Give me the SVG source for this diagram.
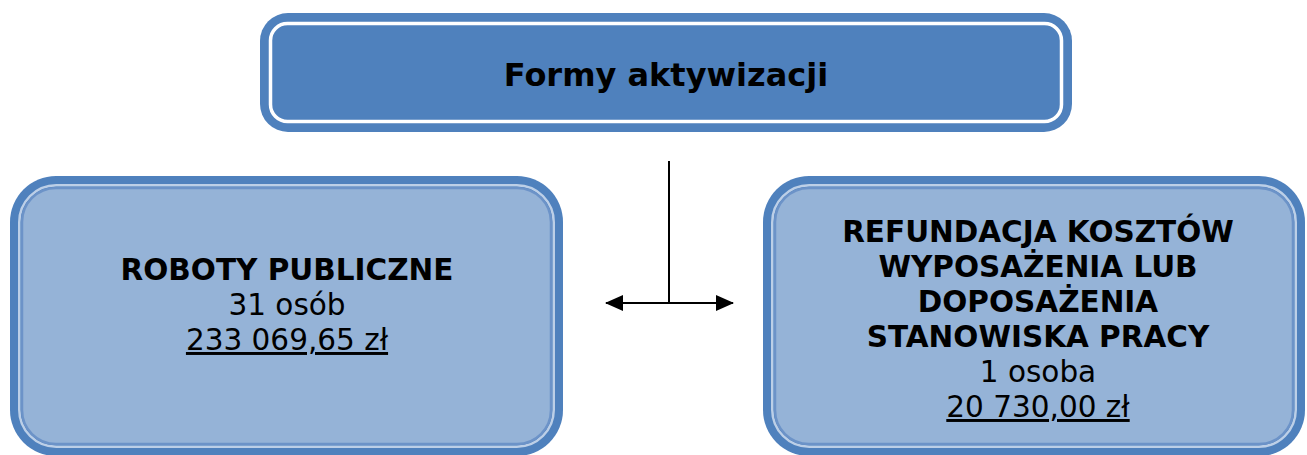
<svg xmlns="http://www.w3.org/2000/svg" width="1307" height="455" viewBox="0 0 1307 455">
<style>
.outer{fill:#4F81BD}
.ring1{fill:none;stroke:#BCCFE7;stroke-width:2.5}
.ring2{fill:#95B3D7;stroke:#6C93C8;stroke-width:2.5}
.white{fill:none;stroke:#FFFFFF;stroke-width:3.5}
text{font-family:"DejaVu Sans",Verdana,sans-serif;fill:#000;text-anchor:middle}
.b{font-weight:bold;font-size:29.5px}
.t{font-weight:bold;font-size:32px}
.r{font-size:29.5px}
.u{text-decoration:underline}
.conn{stroke:#000;stroke-width:2;fill:none}
</style>
<defs>
<marker id="ah" viewBox="0 0 18 16" refX="17" refY="8" markerWidth="18" markerHeight="16" markerUnits="userSpaceOnUse" orient="auto-start-reverse">
<path d="M0,0 L18,8 L0,16 Z" fill="#000"/>
</marker>
</defs>
<g id="top">
<rect class="outer" x="260" y="13" width="812" height="119" rx="28"/>
<rect class="white" x="270.5" y="23.5" width="791" height="98" rx="17"/>
<text class="t" x="666" y="86">Formy aktywizacji</text>
</g>
<g id="left">
<rect class="outer" x="10" y="176" width="553" height="280" rx="46"/>
<rect class="ring1" x="19.25" y="185.25" width="534.5" height="261.5" rx="37"/>
<rect class="ring2" x="22" y="188" width="529" height="256" rx="34"/>
<text class="b" x="287" y="280">ROBOTY PUBLICZNE</text>
<text class="r" x="287" y="315">31 osób</text>
<text class="r u" x="287" y="350">233 069,65 zł</text>
</g>
<g id="right">
<rect class="outer" x="763" y="176" width="542" height="280" rx="46"/>
<rect class="ring1" x="772.25" y="185.25" width="523.5" height="261.5" rx="37"/>
<rect class="ring2" x="775" y="188" width="518" height="256" rx="34"/>
<text class="b" x="1038" y="242">REFUNDACJA KOSZTÓW</text>
<text class="b" x="1038" y="277">WYPOSAŻENIA LUB</text>
<text class="b" x="1038" y="312">DOPOSAŻENIA</text>
<text class="b" x="1038" y="347">STANOWISKA PRACY</text>
<text class="r" x="1038" y="382">1 osoba</text>
<text class="r u" x="1038" y="417">20 730,00 zł</text>
</g>
<g id="connectors">
<line class="conn" x1="669" y1="161" x2="669" y2="303"/>
<line class="conn" x1="606" y1="303" x2="733" y2="303" marker-start="url(#ah)" marker-end="url(#ah)"/>
</g>
</svg>
